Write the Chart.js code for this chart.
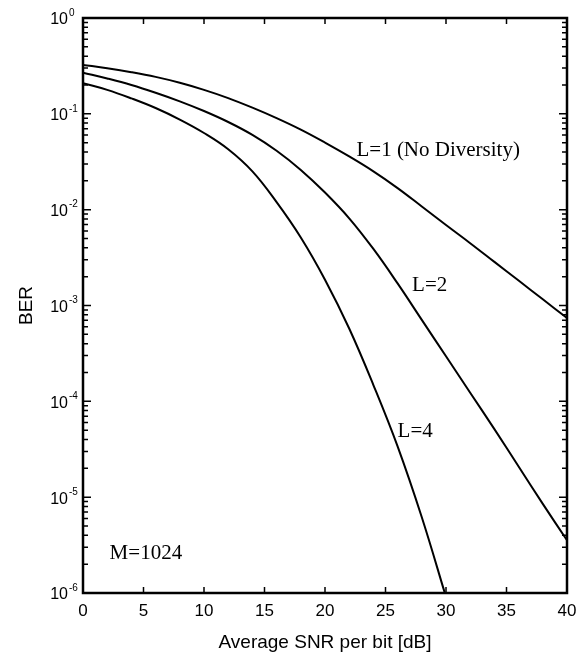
<!DOCTYPE html>
<html>
<head>
<meta charset="utf-8">
<script src="https://cdn.jsdelivr.net/npm/chart.js@4.4.1/dist/chart.umd.min.js"></script>
<style>
    html, body { margin: 0; padding: 0; background: #fff; }
    #berChart { display: block; }
</style>
</head>
<body>
<canvas id="berChart" width="586" height="654"></canvas>
<script>
// Average SNR per bit [dB]
const snr = [0, 2, 4, 6, 8, 10, 12, 14, 16, 18, 20, 22, 24, 26, 28, 30, 32, 34, 36, 38, 40];

// BER
const berL1 = [0.324, 0.299, 0.272, 0.243, 0.211, 0.178, 0.146, 0.116, 0.0902, 0.0684, 0.0501,
               0.0359, 0.0251, 0.0168, 0.0108, 0.00692, 0.00447, 0.00285, 0.00182, 0.00116, 0.00074];
const berL2 = [0.269, 0.234, 0.200, 0.166, 0.135, 0.107, 0.0822, 0.0603, 0.0412, 0.0260, 0.0151,
               0.00813, 0.00389, 0.00170, 7.08e-4, 2.95e-4, 1.23e-4, 5.13e-5, 2.09e-5, 8.51e-6, 3.55e-6];
const berL4 = [0.209, 0.178, 0.145, 0.115, 0.0871, 0.0631, 0.0427, 0.0251, 0.0120, 0.00513, 0.00186,
               5.75e-4, 1.48e-4, 3.39e-5, 6.17e-6, 9.1e-7];

const xTicks = [0, 5, 10, 15, 20, 25, 30, 35, 40];
const yExponents = [-6, -5, -4, -3, -2, -1, 0];

const seriesNames = ['L=1 (No Diversity)', 'L=2', 'L=4'];
const noteText = 'M=1024';

// where the text notes sit, in data units
const notes = [
    { text: seriesNames[0], x: 22.6, y: 0.0419 },
    { text: seriesNames[1], x: 27.2, y: 0.00163 },
    { text: seriesNames[2], x: 26.0, y: 4.8e-5 },
    { text: noteText, x: 2.2, y: 2.6e-6 }
];

function toPoints(values) {
    return values.map((v, i) => ({ x: snr[i], y: v }));
}

// Frame, inside ticks, y labels with superscripts, and the text notes
const framePlugin = {
    id: 'framePlugin',
    afterDatasetsDraw(chart) {
        const { ctx, chartArea: a, scales: { x, y } } = chart;
        ctx.save();
        ctx.strokeStyle = '#000';
        ctx.fillStyle = '#000';

        ctx.lineWidth = 1.5;
        ctx.beginPath();
        xTicks.slice(1, -1).forEach(v => {
            const px = x.getPixelForValue(v);
            ctx.moveTo(px, a.bottom); ctx.lineTo(px, a.bottom - 6);
            ctx.moveTo(px, a.top); ctx.lineTo(px, a.top + 6);
        });
        yExponents.forEach(e => {
            for (let m = 1; m <= 9; m++) {
                if (e === 0 && m > 1) break;
                const py = y.getPixelForValue(m * Math.pow(10, e));
                const len = m === 1 ? 8 : 5;
                ctx.moveTo(a.left, py); ctx.lineTo(a.left + len, py);
                ctx.moveTo(a.right, py); ctx.lineTo(a.right - len, py);
            }
        });
        ctx.stroke();

        ctx.lineWidth = 2.5;
        ctx.strokeRect(a.left, a.top, a.right - a.left, a.bottom - a.top);

        // y tick labels: 10 with a small exponent
        yExponents.forEach(e => {
            const py = y.getPixelForValue(Math.pow(10, e));
            ctx.font = '16px "Liberation Sans", Arial, sans-serif';
            ctx.textAlign = 'right';
            ctx.textBaseline = 'middle';
            ctx.fillText('10', a.left - 15, py + 2);
            ctx.font = '10px "Liberation Sans", Arial, sans-serif';
            ctx.textAlign = 'left';
            ctx.fillText(String(e), a.left - 14, py - 5);
        });

        ctx.font = '21px "Liberation Serif", "Times New Roman", serif';
        ctx.textAlign = 'left';
        ctx.textBaseline = 'middle';
        notes.forEach(n => {
            ctx.fillText(n.text, x.getPixelForValue(n.x), y.getPixelForValue(n.y));
        });
        ctx.restore();
    }
};

const lineStyle = {
    borderColor: '#000',
    borderWidth: 2,
    pointRadius: 0,
    fill: false,
    tension: 0.4
};

const berChart = new Chart(document.getElementById('berChart'), {
    type: 'line',
    data: {
        datasets: [
            Object.assign({ label: seriesNames[0], data: toPoints(berL1) }, lineStyle),
            Object.assign({ label: seriesNames[1], data: toPoints(berL2) }, lineStyle),
            Object.assign({ label: seriesNames[2], data: toPoints(berL4) }, lineStyle)
        ]
    },
    options: {
        responsive: false,
        animation: false,
        layout: { padding: { top: 18, right: 19, left: 0, bottom: 0 } },
        plugins: {
            legend: { display: false },
            tooltip: { enabled: false }
        },
        scales: {
            x: {
                type: 'linear',
                min: 0,
                max: 40,
                grid: { display: false, drawTicks: false },
                border: { display: false },
                ticks: {
                    stepSize: 5,
                    padding: 8,
                    color: '#000',
                    font: { family: '"Liberation Sans", Arial, sans-serif', size: 17 }
                },
                title: {
                    display: true,
                    text: 'Average SNR per bit [dB]',
                    color: '#000',
                    padding: { top: 1, bottom: 0 },
                    font: { family: '"Liberation Sans", Arial, sans-serif', size: 19 }
                },
                afterFit: s => { s.height = 61; }
            },
            y: {
                type: 'logarithmic',
                min: 1e-6,
                max: 1,
                grid: { display: false, drawTicks: false },
                border: { display: false },
                ticks: { display: false },
                title: {
                    display: true,
                    text: 'BER',
                    color: '#000',
                    padding: { top: 15, bottom: 0 },
                    font: { family: '"Liberation Sans", Arial, sans-serif', size: 19 }
                },
                afterFit: s => { s.width = 83; }
            }
        }
    },
    plugins: [framePlugin]
});
</script>
</body>
</html>
